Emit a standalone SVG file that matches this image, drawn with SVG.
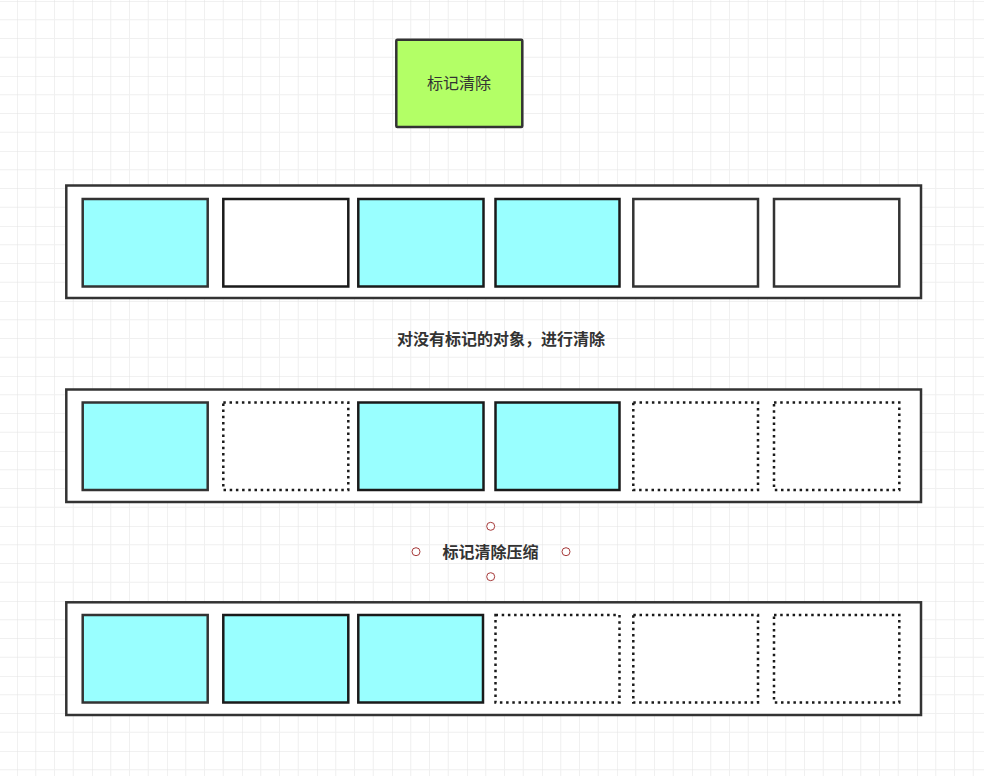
<svg xmlns="http://www.w3.org/2000/svg" width="984" height="776" viewBox="0 0 984 776">
  <defs>
    <pattern id="grid" patternUnits="userSpaceOnUse" x="17" y="1" width="75" height="75">
      <rect width="75" height="75" fill="#ffffff"/>
      <g stroke="#f0f0f0" stroke-width="1" fill="none">
        <line x1="18.75" y1="0" x2="18.75" y2="75"/>
        <line x1="37.5" y1="0" x2="37.5" y2="75"/>
        <line x1="56.25" y1="0" x2="56.25" y2="75"/>
        <line x1="0" y1="18.75" x2="75" y2="18.75"/>
        <line x1="0" y1="37.5" x2="75" y2="37.5"/>
        <line x1="0" y1="56.25" x2="75" y2="56.25"/>
      </g>
      <g stroke="#e3e3e3" stroke-width="1" fill="none">
        <line x1="0" y1="0" x2="0" y2="75"/>
        <line x1="0" y1="0" x2="75" y2="0"/>
      </g>
    </pattern>
  </defs>
  <style>
    .outer { fill: #ffffff; stroke: #333333; stroke-width: 2.5; }
    .live { fill: #99ffff; stroke: #333333; stroke-width: 2.5; }
    .liveb { fill: #99ffff; stroke: #1a1a1a; stroke-width: 2.5; }
    .empty { fill: #ffffff; stroke: #333333; stroke-width: 2.5; }
    .emptyb { fill: #ffffff; stroke: #1a1a1a; stroke-width: 2.5; }
    .freed { fill: #ffffff; stroke: #1a1a1a; stroke-width: 2.5; stroke-dasharray: 2.5 3.7; }
    .lbl { font-family: "Noto Sans CJK SC", "Noto Sans", sans-serif; font-size: 16px; fill: #333333; text-anchor: middle; }
    .bold { font-weight: bold; }
    .handle { fill: #ffffff; stroke: #a63a3a; stroke-width: 1; }
  </style>
  <rect x="0" y="0" width="984" height="776" fill="url(#grid)"/>

  <g id="title">
    <rect x="396.3" y="39.7" width="126" height="87.3" rx="1" fill="#b3ff66" stroke="#333333" stroke-width="2.5"/>
    <text class="lbl" x="459" y="89">标记清除</text>
  </g>

  <g id="row1">
    <rect class="outer" x="66.3" y="185.5" width="854.7" height="112.5"/>
    <g id="r1b1"><rect class="live" x="82.7" y="199" width="125" height="87.5"/></g>
    <g id="r1b2"><rect class="emptyb" x="223.3" y="199" width="125" height="87.5"/></g>
    <g id="r1b3"><rect class="liveb" x="358.3" y="199" width="125.2" height="87.5"/></g>
    <g id="r1b4"><rect class="liveb" x="495.5" y="199" width="124" height="87.5"/></g>
    <g id="r1b5"><rect class="empty" x="633.3" y="199" width="124.7" height="87.5"/></g>
    <g id="r1b6"><rect class="empty" x="774" y="199" width="125.3" height="87.5"/></g>
  </g>

  <g id="label1">
    <text class="lbl bold" x="501" y="345">对没有标记的对象，进行清除</text>
  </g>

  <g id="row2">
    <rect class="outer" x="66.3" y="389.5" width="854.7" height="112.5"/>
    <g id="r2b1"><rect class="live" x="82.7" y="402.5" width="125" height="87.5"/></g>
    <g id="r2b2"><rect class="freed" x="223.3" y="402.5" width="125" height="87.5"/></g>
    <g id="r2b3"><rect class="liveb" x="358.3" y="402.5" width="125.2" height="87.5"/></g>
    <g id="r2b4"><rect class="liveb" x="495.5" y="402.5" width="124" height="87.5"/></g>
    <g id="r2b5"><rect class="freed" x="633.3" y="402.5" width="124.7" height="87.5"/></g>
    <g id="r2b6"><rect class="freed" x="774" y="402.5" width="125.3" height="87.5"/></g>
  </g>

  <g id="label2">
    <text class="lbl bold" x="490.5" y="558">标记清除压缩</text>
    <circle class="handle" cx="490.7" cy="526.3" r="4"/>
    <circle class="handle" cx="416" cy="551.7" r="4"/>
    <circle class="handle" cx="566" cy="551.7" r="4"/>
    <circle class="handle" cx="490.7" cy="576.7" r="4"/>
  </g>

  <g id="row3">
    <rect class="outer" x="66.3" y="602.3" width="854.7" height="112.7"/>
    <g id="r3b1"><rect class="live" x="82.7" y="615" width="125" height="87.5"/></g>
    <g id="r3b2"><rect class="liveb" x="223.3" y="615" width="125" height="87.5"/></g>
    <g id="r3b3"><rect class="liveb" x="358.3" y="615" width="124.7" height="87.5"/></g>
    <g id="r3b4"><rect class="freed" x="495.5" y="615" width="124" height="87.5"/></g>
    <g id="r3b5"><rect class="freed" x="633.3" y="615" width="124.7" height="87.5"/></g>
    <g id="r3b6"><rect class="freed" x="774" y="615" width="125.3" height="87.5"/></g>
  </g>
</svg>
